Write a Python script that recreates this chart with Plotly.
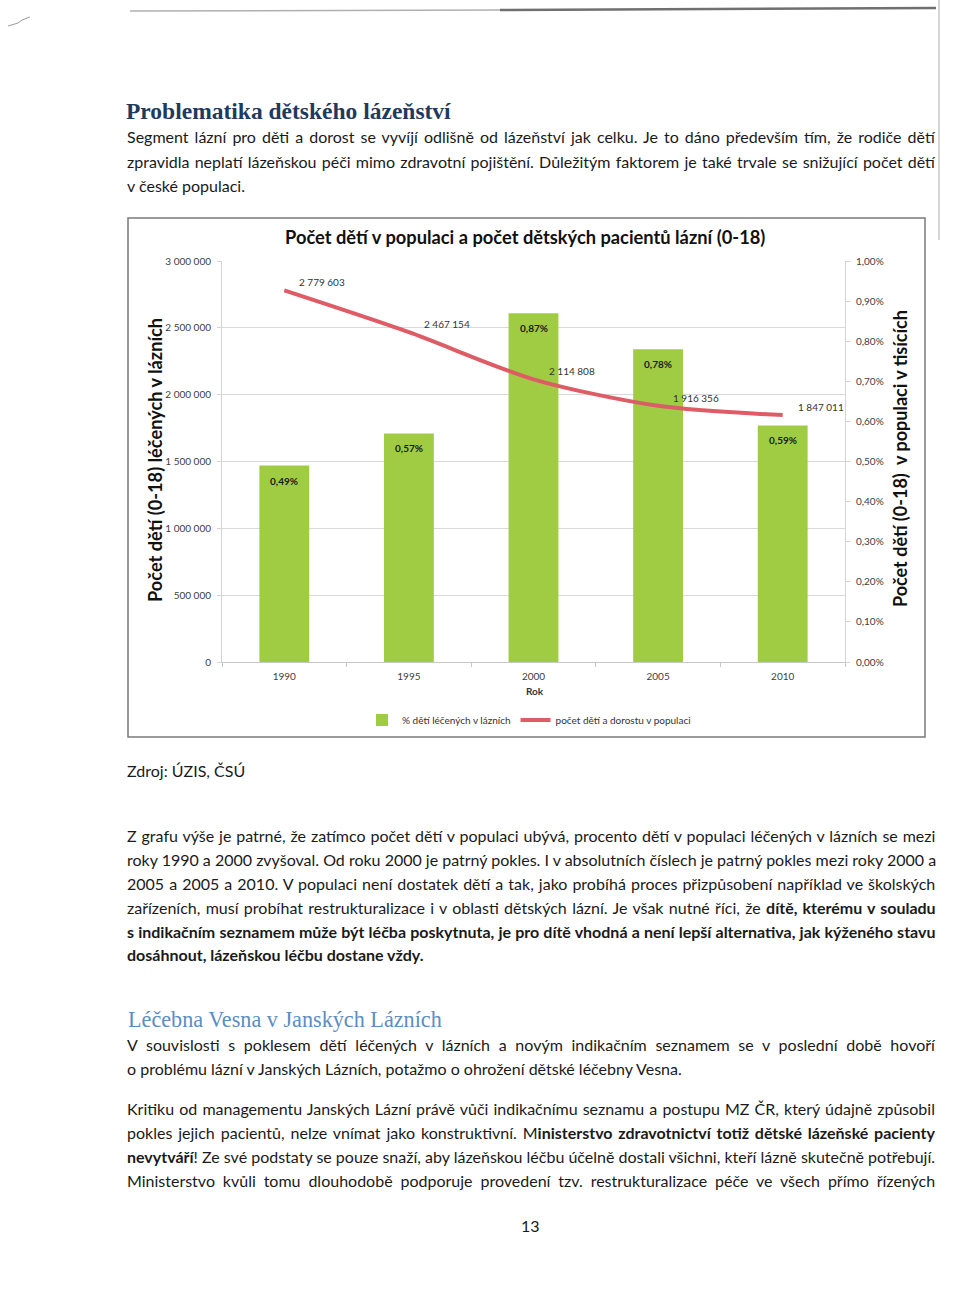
import plotly.graph_objects as go

# ---------------- data ----------------
years = ["1990", "1995", "2000", "2005", "2010"]
pct_treated = [0.0049, 0.0057, 0.0087, 0.0078, 0.0059]          # % dětí léčených v lázních
population = [2779603, 2467154, 2114808, 1916356, 1847011]       # počet dětí a dorostu v populaci
pct_labels = ["0,49%", "0,57%", "0,87%", "0,78%", "0,59%"]
pop_labels = ["2 779 603", "2 467 154", "2 114 808", "1 916 356", "1 847 011"]

chart_title = "Počet dětí v populaci a počet dětských pacientů lázní (0-18)"
left_title = "Počet dětí (0-18) léčených v lázních"
right_title = "Počet dětí (0-18)  v populaci v tisících"
x_title = "Rok"
bar_name = "% dětí léčených v lázních"
line_name = "počet dětí a dorostu v populaci"

heading1 = "Problematika dětského lázeňství"
para1 = [
    "Segment lázní pro děti a dorost se vyvíjí odlišně od lázeňství jak celku. Je to dáno především tím, že rodiče dětí",
    "zpravidla neplatí lázeňskou péči mimo zdravotní pojištění. Důležitým faktorem je také trvale se snižující počet dětí",
    "v české populaci.",
]
source = "Zdroj: ÚZIS, ČSÚ"
para2 = [
    "Z grafu výše je patrné, že zatímco počet dětí v populaci ubývá, procento dětí v populaci léčených v lázních se mezi",
    "roky 1990 a 2000 zvyšoval. Od roku 2000 je patrný pokles. I v absolutních číslech je patrný pokles mezi roky 2000 a",
    "2005 a 2005 a 2010. V populaci není dostatek dětí a tak, jako probíhá proces přizpůsobení například ve školských",
    "zařízeních, musí probíhat restrukturalizace i v oblasti dětských lázní. Je však nutné říci, že <b>dítě, kterému v souladu</b>",
    "<b>s indikačním seznamem může být léčba poskytnuta, je pro dítě vhodná a není lepší alternativa, jak kýženého stavu</b>",
    "<b>dosáhnout, lázeňskou léčbu dostane vždy.</b>",
]
heading2 = "Léčebna Vesna v Janských Lázních"
para3 = [
    "V souvislosti s poklesem dětí léčených v lázních a novým indikačním seznamem se v poslední době hovoří",
    "o problému lázní v Janských Lázních, potažmo o ohrožení dětské léčebny Vesna.",
]
para4 = [
    "Kritiku od managementu Janských Lázní právě vůči indikačnímu seznamu a postupu MZ ČR, který údajně způsobil",
    "pokles jejich pacientů, nelze vnímat jako konstruktivní. M<b>inisterstvo zdravotnictví totiž dětské lázeňské pacienty</b>",
    "<b>nevytváří</b>! Ze své podstaty se pouze snaží, aby lázeňskou léčbu účelně dostali všichni, kteří lázně skutečně potřebují.",
    "Ministerstvo kvůli tomu dlouhodobě podporuje provedení tzv. restrukturalizace péče ve všech přímo řízených",
]
page_number = "13"

# word spacing (px) per line to imitate the justified paragraphs (style only)
ws1 = [1.95, 1.13, 0]
ws2 = [0.8, 0, 0.94, 1.24, 0.24, 0]
ws3 = [4.6, 0]
ws4 = [1.0, 1.83, 0, 3.8]

# ---------------- layout helpers ----------------
W, H = 960, 1291
def px(x):
    return x / W
def py(y):
    return 1 - y / H

FONT = "Lato"
SERIF = "Liberation Serif"
BAR_COLOR = "#9FCC42"
LINE_COLOR = "#DE5C66"

fig = go.Figure()

fig.add_trace(go.Bar(
    x=years, y=pct_treated, name=bar_name,
    marker=dict(color=BAR_COLOR, line=dict(width=0)),
    width=0.4, yaxis="y", hoverinfo="skip",
))
fig.add_trace(go.Scatter(
    x=years, y=population, name=line_name, mode="lines",
    line=dict(color=LINE_COLOR, width=4, shape="spline", smoothing=0.8),
    yaxis="y2", hoverinfo="skip",
))

annotations = []
# bar labels (x given as category index)
for i, (v, t) in enumerate(zip(pct_treated, pct_labels)):
    annotations.append(dict(x=i, y=v, xref="x", yref="y", text=f"<b>{t}</b>",
                            showarrow=False, yshift=-15, xanchor="center", yanchor="middle",
                            font=dict(family=FONT, size=10, color="#1a1a1a")))
# line labels
for i, (v, t) in enumerate(zip(population, pop_labels)):
    annotations.append(dict(x=i, y=v, xref="x", yref="y2", text=t,
                            showarrow=False, xshift=38, yshift=8, xanchor="center", yanchor="middle",
                            font=dict(family=FONT, size=10, color="#333333")))

C = dict(xanchor="center", yanchor="middle", showarrow=False, xref="paper", yref="paper")
annotations += [
    dict(x=px(525), y=py(237), text=f"<b>{chart_title}</b>",
         font=dict(family=FONT, size=18.3, color="#111111"), **C),
    dict(x=px(155), y=py(460), text=f"<b>{left_title}</b>", textangle=-90,
         font=dict(family=FONT, size=18.2, color="#111111"), **C),
    dict(x=px(900), y=py(459), text=f"<b>{right_title}</b>", textangle=-90,
         font=dict(family=FONT, size=18, color="#111111"), **C),
    dict(x=px(535), y=py(691), text=f"<b>{x_title}</b>",
         font=dict(family=FONT, size=10, color="#333333"), **C),
]

# page texts
BODY = dict(family=FONT, size=16, color="#1a1a1a")
def add_lines(lines, y0, spacing=None, step=24):
    spacing = spacing or [0] * len(lines)
    for i, (ln, ws) in enumerate(zip(lines, spacing)):
        txt = f'<span style="word-spacing:{ws}px">{ln}</span>' if ws else ln
        annotations.append(dict(x=px(125), y=py(y0 + i * step), xref="paper", yref="paper",
                                text=txt, showarrow=False, xanchor="left", yanchor="middle",
                                font=BODY))

annotations.append(dict(x=px(124), y=py(111), xref="paper", yref="paper", text=f"<b>{heading1}</b>",
                        showarrow=False, xanchor="left", yanchor="middle",
                        font=dict(family=SERIF, size=23.5, color="#1F3A60")))
add_lines(para1, 137, ws1)
add_lines([source], 770)
add_lines(para2, 835, ws2)
annotations.append(dict(x=px(126), y=py(1019), xref="paper", yref="paper", text=heading2,
                        showarrow=False, xanchor="left", yanchor="middle",
                        font=dict(family=SERIF, size=22.2, color="#5B8DC4")))
add_lines(para3, 1044, ws3)
add_lines(para4, 1108, ws4)
annotations.append(dict(x=px(530), y=py(1225), text=page_number, font=BODY, **C))

shapes = [
    # chart frame
    dict(type="rect", xref="paper", yref="paper", x0=px(128), x1=px(925), y0=py(737), y1=py(218),
         line=dict(color="#7a7a7a", width=1.5)),
    # scan artefacts
    dict(type="line", xref="paper", yref="paper", x0=px(130), x1=px(500), y0=py(11), y1=py(10),
         line=dict(color="#b0b0b0", width=1.5)),
    dict(type="line", xref="paper", yref="paper", x0=px(500), x1=px(936), y0=py(10), y1=py(8),
         line=dict(color="#707070", width=2.5)),
    dict(type="line", xref="paper", yref="paper", x0=px(939), x1=px(939), y0=py(0), y1=py(240),
         line=dict(color="#c8c8c8", width=1.5)),
    dict(type="path", xref="paper", yref="paper",
         path=f"M {px(8)} {py(26)} L {px(18)} {py(23)} L {px(22)} {py(20)} L {px(30)} {py(17)}",
         line=dict(color="#9a9a9a", width=1)),
]

TICKF = dict(family=FONT, size=10, color="#404040")
fig.update_layout(
    template="none",
    width=W, height=H, margin=dict(l=0, r=0, t=0, b=0, pad=0),
    paper_bgcolor="white", plot_bgcolor="white",
    separators=", ",
    showlegend=True,
    legend=dict(orientation="h", x=px(529), xanchor="center", y=py(720), yanchor="middle",
                font=dict(family=FONT, size=10, color="#333333"), itemwidth=30,
                bgcolor="rgba(0,0,0,0)"),
    barmode="overlay",
    xaxis=dict(domain=[px(222), px(845)], type="category", range=[-0.5, 4.5],
               showline=True, linecolor="#c8c8c8", linewidth=1,
               ticks="outside", tickson="boundaries", ticklen=4, tickcolor="#c8c8c8",
               ticklabelstandoff=5,
               tickfont=TICKF, showgrid=False, zeroline=False),
    yaxis=dict(domain=[py(662), py(261)], side="right", range=[0, 0.01], dtick=0.001,
               tickformat=".2%", showgrid=False, zeroline=False,
               showline=True, linecolor="#d4d4d4", ticks="outside", ticklen=4,
               ticklabelstandoff=4,
               tickcolor="#d4d4d4", tickfont=TICKF),
    yaxis2=dict(overlaying="y", side="left", range=[0, 3000000], dtick=500000,
                tickformat=",d", showgrid=True, gridcolor="#d9d9d9", gridwidth=1,
                zeroline=False, showline=True, linecolor="#d4d4d4", ticks="outside",
                ticklabelstandoff=4,
                ticklen=4, tickcolor="#d4d4d4", tickfont=TICKF),
    annotations=annotations,
    shapes=shapes,
    font=dict(family=FONT),
)

fig.write_html("out.html", config={"displayModeBar": False},
               post_script="document.body.style.margin='0px';document.body.style.overflow='hidden';")
